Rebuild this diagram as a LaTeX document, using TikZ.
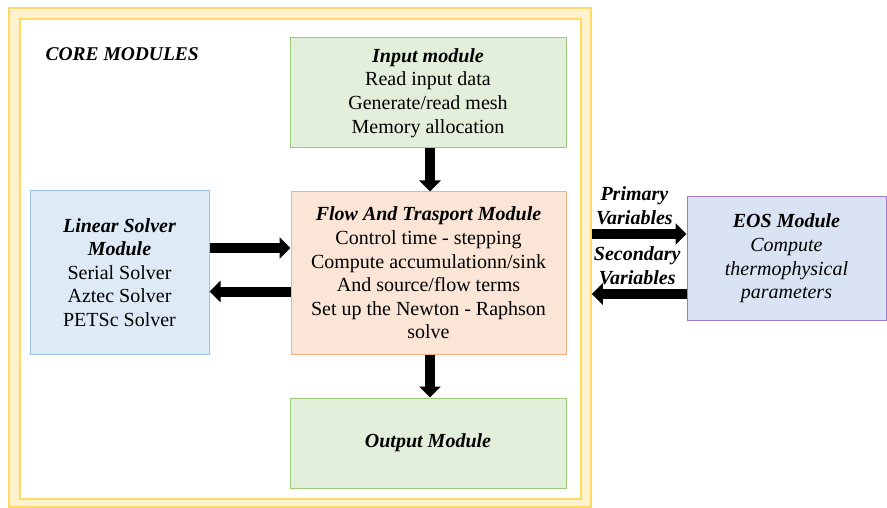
\documentclass[tikz,border=0pt]{standalone}
\usepackage{fontspec}
\setmainfont{Liberation Serif}
\usetikzlibrary{arrows.meta}

\definecolor{frameyellow}{HTML}{FFF2CC}
\definecolor{framegold}{HTML}{FFD966}
\definecolor{modgreen}{HTML}{E2EFDA}
\definecolor{modgreenline}{HTML}{9DC97A}
\definecolor{modorange}{HTML}{FBE5D6}
\definecolor{modorangeline}{HTML}{F4B183}
\definecolor{modblue}{HTML}{DEEBF7}
\definecolor{modblueline}{HTML}{9DC3E6}
\definecolor{modlilac}{HTML}{DAE3F3}
\definecolor{modlilacline}{HTML}{9E7BD0}

\begin{document}
\begin{tikzpicture}[x=1pt, y=-1pt,
  module/.style={draw, line width=1pt, align=center, inner sep=0pt,
    font=\fontsize{20}{23.6}\selectfont},
  bigarrow/.style={line width=10pt, -{Triangle[length=11pt, width=21pt]}},
  varlabel/.style={align=center, font=\fontsize{20}{23.6}\selectfont\bfseries\itshape}]

  \useasboundingbox (0,0) rectangle (887,508);

  \node[draw=framegold, fill=frameyellow, line width=1.5pt, minimum width=582pt,
    minimum height=499pt, inner sep=0pt] (core) at (300,257.5) {};

  \draw[framegold, fill=white, line width=1.5pt] (20,19) rectangle (581,499);

  \node[anchor=west, font=\fontsize{19.5}{23.6}\selectfont\bfseries\itshape] (title) at (42,54) {CORE MODULES};

  \node[module, fill=modgreen, draw=modgreenline, minimum width=276pt, minimum height=110pt] (inp) at (428,93)
    {\textbf{\textit{Input module}}\\Read input data\\Generate/read mesh\\Memory allocation};

  \node[module, fill=modorange, draw=modorangeline, minimum width=275pt, minimum height=162pt] (flow) at (428.5,273)
    {\textbf{\textit{Flow And Trasport Module}}\\Control time - stepping\\Compute accumulationn/sink\\And source/flow terms\\Set up the Newton - Raphson\\solve};

  \node[module, fill=modgreen, draw=modgreenline, minimum width=276pt, minimum height=90pt] (outp) at (428,443)
    {\textbf{\textit{Output Module}}};

  \node[module, fill=modblue, draw=modblueline, minimum width=179pt, minimum height=163pt] (lin) at (119.5,272.5)
    {\textbf{\textit{Linear Solver}}\\\textbf{\textit{Module}}\\Serial Solver\\Aztec Solver\\PETSc Solver};

  \node[module, fill=modlilac, draw=modlilacline, minimum width=199pt, minimum height=123pt] (eos) at (786.5,258.5)
    {\textbf{\textit{EOS Module}}\\\textit{Compute}\\\textit{thermophysical}\\\textit{parameters}};

  \coordinate (pv) at (0,234);
  \coordinate (sv) at (0,294);

  \draw[bigarrow] ([xshift=2pt]inp.south) -- ([xshift=2pt]inp.south |- flow.north);

  \draw[bigarrow] ([xshift=2pt]inp.south |- flow.south) -- ([xshift=2pt]inp.south |- outp.north);

  \draw[bigarrow] ([yshift=24.5pt]lin.east) -- ([yshift=24.5pt]lin.east -| flow.west);

  \draw[bigarrow] ([yshift=-18.5pt]flow.west) -- ([yshift=-18.5pt]flow.west -| lin.east);

  \draw[bigarrow] (core.east |- pv) -- (eos.west |- pv) node[pos=0.45, above=1pt, varlabel] (prim) {Primary\\Variables};

  \draw[bigarrow] (eos.west |- sv) -- (core.east |- sv) node[pos=0.52, above=1pt, varlabel] (sec) {Secondary\\Variables};

\end{tikzpicture}
\end{document}
